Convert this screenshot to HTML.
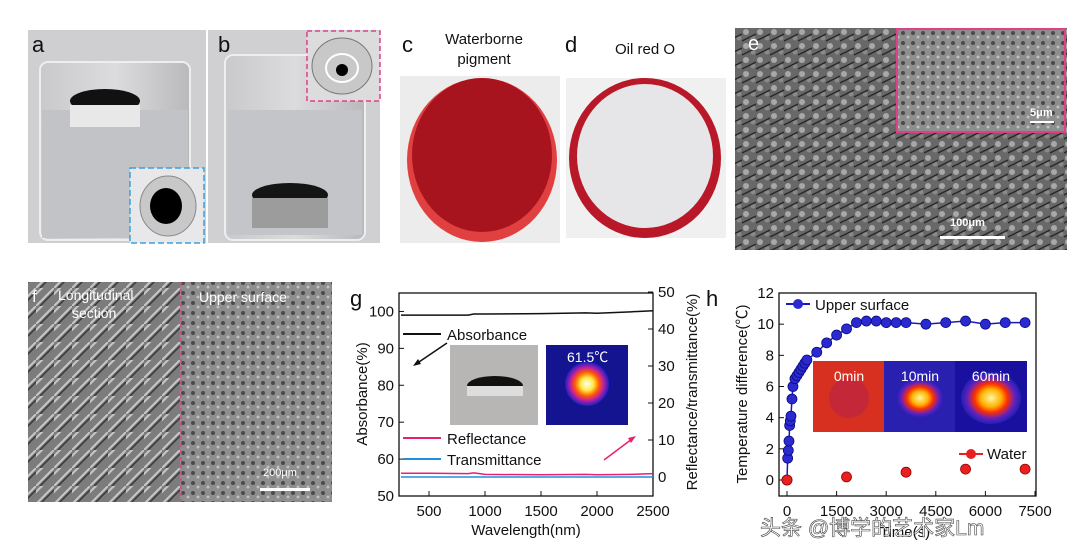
<!DOCTYPE html>
<html><head><meta charset="utf-8"><style>
html,body{margin:0;padding:0;background:#fff;width:1070px;height:558px;overflow:hidden}
svg{display:block;font-family:"Liberation Sans","Noto Sans CJK SC",sans-serif}
</style></head><body>
<svg id="fig" width="1070" height="558" viewBox="0 0 1070 558">
<defs>
<linearGradient id="glass" x1="0" y1="0" x2="1" y2="0"><stop offset="0" stop-color="#c9c9cb"/><stop offset="0.5" stop-color="#dcdcde"/><stop offset="1" stop-color="#b9b9bc"/></linearGradient>
<radialGradient id="hot" cx="0.5" cy="0.5" r="0.5"><stop offset="0" stop-color="#fff"/><stop offset="0.3" stop-color="#ffe840"/><stop offset="0.55" stop-color="#ff5a00"/><stop offset="0.75" stop-color="#c020a0"/><stop offset="1" stop-color="#1a20c0"/></radialGradient>
<radialGradient id="hot2" cx="0.5" cy="0.5" r="0.5"><stop offset="0" stop-color="#fff8a0"/><stop offset="0.35" stop-color="#ffb000"/><stop offset="0.55" stop-color="#ff3000"/><stop offset="0.8" stop-color="#6020c0"/><stop offset="1" stop-color="#2020b0"/></radialGradient>
<pattern id="sem" width="14" height="14" patternUnits="userSpaceOnUse"><rect width="14" height="14" fill="#686868"/><circle cx="4" cy="4" r="3" fill="#a8a8a8"/><circle cx="11" cy="10" r="2.5" fill="#8a8a8a"/><path d="M0 13 L14 6" stroke="#2a2a2a" stroke-width="1.5"/></pattern>
<pattern id="sem2" width="10" height="10" patternUnits="userSpaceOnUse"><rect width="10" height="10" fill="#8e8e8e"/><circle cx="3" cy="3" r="2" fill="#4a4a4a"/><circle cx="8" cy="7" r="1.5" fill="#c0c0c0"/></pattern>
<pattern id="semf" width="18" height="18" patternUnits="userSpaceOnUse"><rect width="18" height="18" fill="#7c7c7c"/><path d="M0 18 L18 0 M-4 10 L10 -4" stroke="#c8c8c8" stroke-width="2"/><path d="M4 18 L18 4" stroke="#383838" stroke-width="1.5"/></pattern>
</defs>

<g>
<rect x="28" y="30" width="178" height="213" fill="#cfcfd1"/>
<rect x="40" y="62" width="150" height="178" rx="8" fill="url(#glass)" stroke="#eee" stroke-width="2"/>
<rect x="42" y="110" width="146" height="128" fill="#c2c3c6"/>
<ellipse cx="105" cy="101" rx="35" ry="12" fill="#111"/>
<rect x="70" y="105" width="70" height="22" fill="#e8e8e8"/>
<rect x="130" y="168" width="74" height="75" fill="#e8e8ea" stroke="#3aa0e0" stroke-dasharray="6,3" stroke-width="1.5"/>
<ellipse cx="168" cy="206" rx="28" ry="30" fill="#c8c8c8" stroke="#888"/>
<ellipse cx="166" cy="206" rx="16" ry="18" fill="#000"/>
<text x="32" y="52" font-size="22" fill="#111">a</text>
</g>
<g>
<rect x="208" y="30" width="172" height="213" fill="#d0d0d2"/>
<rect x="225" y="55" width="140" height="185" rx="8" fill="url(#glass)" stroke="#eee" stroke-width="2"/>
<rect x="228" y="110" width="134" height="125" fill="#c4c5c8"/>
<ellipse cx="290" cy="195" rx="38" ry="12" fill="#151515"/>
<rect x="252" y="198" width="76" height="30" fill="#9c9c9c"/>
<rect x="307" y="31" width="73" height="70" fill="#dcdcdc" stroke="#e0408a" stroke-dasharray="5,3" stroke-width="1.5"/>
<ellipse cx="342" cy="66" rx="30" ry="28" fill="#c8c8c8" stroke="#777"/>
<ellipse cx="342" cy="68" rx="16" ry="14" fill="none" stroke="#fff" stroke-width="2"/>
<ellipse cx="342" cy="70" rx="6" ry="6" fill="#000"/>
<text x="218" y="52" font-size="22" fill="#111">b</text>
</g>
<g>
<text x="402" y="52" font-size="22" fill="#111">c</text>
<text x="484" y="44" font-size="15" text-anchor="middle" fill="#111">Waterborne</text>
<text x="484" y="64" font-size="15" text-anchor="middle" fill="#111">pigment</text>
<rect x="400" y="76" width="160" height="167" fill="#ececec"/>
<ellipse cx="482" cy="160" rx="75" ry="82" fill="#e04040"/>
<ellipse cx="482" cy="155" rx="70" ry="77" fill="#a8141e"/>
</g>
<g>
<text x="565" y="52" font-size="22" fill="#111">d</text>
<text x="645" y="54" font-size="15" text-anchor="middle" fill="#111">Oil red O</text>
<rect x="566" y="78" width="160" height="160" fill="#f0f0f0"/>
<ellipse cx="645" cy="158" rx="76" ry="80" fill="#b81828"/>
<ellipse cx="645" cy="156" rx="68" ry="72" fill="#e6e6e8"/>
</g>
<g>
<rect x="735" y="28" width="332" height="222" fill="url(#sem)"/>
<rect x="897" y="29" width="168" height="103" fill="url(#sem2)" stroke="#e0408a" stroke-width="2"/>
<text x="1030" y="116" font-size="11" font-weight="bold" fill="#fff">5μm</text>
<rect x="1030" y="121" width="24" height="2" fill="#fff"/>
<text x="950" y="226" font-size="11" font-weight="bold" fill="#fff">100μm</text>
<rect x="940" y="236" width="65" height="3" fill="#fff"/>
<text x="748" y="50" font-size="20" fill="#fff">e</text>
</g>
<g>
<rect x="28" y="282" width="152" height="220" fill="url(#semf)"/>
<rect x="180" y="282" width="152" height="220" fill="url(#sem2)"/>
<line x1="181" y1="282" x2="181" y2="502" stroke="#e0408a" stroke-dasharray="4,3" stroke-width="1.5"/>
<text x="32" y="302" font-size="17" fill="#fff">f</text>
<text x="58" y="300" font-size="14" fill="#fff">Longitudinal</text>
<text x="72" y="318" font-size="14" fill="#fff">section</text>
<text x="199" y="302" font-size="14" fill="#fff">Upper surface</text>
<text x="263" y="476" font-size="11" fill="#fff">200μm</text>
<rect x="260" y="488" width="50" height="3" fill="#fff"/>
</g>

<g id="chartG"></g>
<g id="chartH"></g>

<text x="760" y="535" font-size="21" fill="#fff" stroke="#444" stroke-width="0.6">头条 @博学的艺术家Lm</text>
</svg>
<script>
// ---- chart g data ----
const gWaveTicks = [500, 1000, 1500, 2000, 2500];
const gAbsTicks = [50, 60, 70, 80, 90, 100];
const gRtTicks = [0, 10, 20, 30, 40, 50];
const gWave = [250, 500, 850, 900, 1000, 1500, 1900, 2000, 2300, 2500];
const gAbsorbance = [99.0, 99.0, 99.0, 99.3, 99.3, 99.4, 99.6, 99.5, 99.9, 100.2];
const gReflectance = [1.0, 1.0, 0.9, 1.1, 0.7, 0.6, 0.7, 0.6, 0.7, 0.9];
const gTransmittance = [0, 0, 0, 0, 0, 0, 0, 0, 0, 0];
// ---- chart h data ----
const hTimeTicks = [0, 1500, 3000, 4500, 6000, 7500];
const hTempTicks = [0, 2, 4, 6, 8, 10, 12];
const hUpperTime = [0,20,40,60,80,100,120,150,180,240,300,360,420,480,540,600,900,1200,1500,1800,2100,2400,2700,3000,3300,3600,4200,4800,5400,6000,6600,7200];
const hUpperTemp = [0,1.4,1.9,2.5,3.5,3.8,4.1,5.2,6.0,6.5,6.7,6.9,7.1,7.3,7.5,7.7,8.2,8.8,9.3,9.7,10.1,10.2,10.2,10.1,10.1,10.1,10.0,10.1,10.2,10.0,10.1,10.1];
const hWaterTime = [0, 1800, 3600, 5400, 7200];
const hWaterTemp = [0, 0.2, 0.5, 0.7, 0.7];

const NS = 'http://www.w3.org/2000/svg';
function mk(parent, tag, attrs, txt){const e=document.createElementNS(NS,tag);for(const k in attrs)e.setAttribute(k,attrs[k]);if(txt!==undefined)e.textContent=txt;parent.appendChild(e);return e;}

(function(){
 const g=document.getElementById('chartG');
 const L=399,R=653,T=293,B=496;
 const x=v=>L+(v-232)/(2500-232)*(R-L);
 const yA=v=>B-(v-50)/(105-50)*(B-T);
 const yR=v=>477-v/50*(477-292);
 let t=mk(g,'text',{x:350,y:306,'font-size':22,fill:'#111'},'g');
 
 let ph=mk(g,'rect',{x:450,y:345,width:88,height:80,fill:'#b8b6b4'});
 
 mk(g,'ellipse',{cx:495,cy:386,rx:28,ry:10,fill:'#111'});
 mk(g,'rect',{x:467,y:386,width:56,height:10,fill:'#ddd'});
 let th=mk(g,'rect',{x:546,y:345,width:82,height:80,fill:'#141490'});
 
 mk(g,'circle',{cx:587,cy:384,r:22,fill:'url(#hot)'});
 mk(g,'text',{x:567,y:362,'font-size':14,fill:'#fff'},'61.5℃');
 let frame=mk(g,'rect',{x:L,y:T,width:R-L,height:B-T,fill:'none',stroke:'#111','stroke-width':1.3});
 
 gWaveTicks.forEach(v=>{const xx=x(v);mk(g,'line',{x1:xx,y1:B,x2:xx,y2:B-5,stroke:'#111'});
  const e=mk(g,'text',{x:xx,y:B+20,'font-size':15,'text-anchor':'middle',fill:'#111'},v);
  });
 gAbsTicks.forEach(v=>{const yy=yA(v);mk(g,'line',{x1:L,y1:yy,x2:L+5,y2:yy,stroke:'#111'});
  const e=mk(g,'text',{x:L-5,y:yy+5,'font-size':15,'text-anchor':'end',fill:'#111'},v);
  });
 gRtTicks.forEach(v=>{const yy=yR(v);mk(g,'line',{x1:R,y1:yy,x2:R-5,y2:yy,stroke:'#111'});
  const e=mk(g,'text',{x:R+5,y:yy+5,'font-size':15,fill:'#111'},v);
  });
 const line=(ys,fy,col,name)=>{const p=mk(g,'polyline',{points:gWave.map((w,i)=>x(w)+','+fy(ys[i])).join(' '),fill:'none',stroke:col,'stroke-width':1.5});
  };
 line(gTransmittance,yR,'#1e90e0','transmittance-line');
 line(gReflectance,yR,'#e8206e','reflectance-line');
 line(gAbsorbance,yA,'#111','absorbance-line');
 const leg=(y,col,label)=>{mk(g,'line',{x1:403,y1:y,x2:441,y2:y,stroke:col,'stroke-width':2});
  const e=mk(g,'text',{x:447,y:y+6,'font-size':15,fill:'#111'},label);
  };
 leg(334,'#111','Absorbance');leg(438,'#e8206e','Reflectance');leg(459,'#1e90e0','Transmittance');
 mk(g,'line',{x1:447,y1:343,x2:416,y2:364,stroke:'#111','stroke-width':1.5});
 mk(g,'path',{d:'M413 366 l8 -2 l-3 -5 z',fill:'#111'});
 mk(g,'line',{x1:604,y1:460,x2:632,y2:439,stroke:'#e8206e','stroke-width':1.5});
 mk(g,'path',{d:'M636 436 l-8 2 l3 5 z',fill:'#e8206e'});
 const yt=mk(g,'text',{x:0,y:0,'font-size':15,'text-anchor':'middle',fill:'#111',transform:'translate(367,394) rotate(-90)'},'Absorbance(%)');
 
 const yt2=mk(g,'text',{x:0,y:0,'font-size':15,'text-anchor':'middle',fill:'#111',transform:'translate(697,392) rotate(-90)'},'Reflectance/transmittance(%)');
 
 const xt=mk(g,'text',{x:526,y:535,'font-size':15,'text-anchor':'middle',fill:'#111'},'Wavelength(nm)');
 
})();

(function(){
 const g=document.getElementById('chartH');
 const L=779,R=1036,T=293,B=496;
 const x=v=>787+v/7500*(1035-787);
 const y=v=>480-v/12*(480-293);
 let t=mk(g,'text',{x:706,y:306,'font-size':22,fill:'#111'},'h');
 
 const ins=[[813,'#d83020','0min'],[884,'#2a20b0','10min'],[955,'#1a10a0','60min']];
 ins.forEach((d,i)=>{const r=mk(g,'rect',{x:d[0],y:361,width:72,height:71,fill:d[1]});
  
  if(i>0) mk(g,'ellipse',{cx:d[0]+36,cy:398,rx:i==1?24:30,ry:i==1?20:26,fill:'url(#hot2)'});
  else mk(g,'circle',{cx:d[0]+36,cy:398,r:20,fill:'#b02050',opacity:0.5});
  mk(g,'text',{x:d[0]+36,y:381,'font-size':14,'text-anchor':'middle',fill:'#fff'},d[2]);});
 const frame=mk(g,'rect',{x:L,y:T,width:R-L,height:B-T,fill:'none',stroke:'#111','stroke-width':1.3});
 
 hTimeTicks.forEach(v=>{const xx=x(v);mk(g,'line',{x1:xx,y1:B,x2:xx,y2:B-5,stroke:'#111'});
  const e=mk(g,'text',{x:xx,y:B+20,'font-size':15,'text-anchor':'middle',fill:'#111'},v);
  });
 hTempTicks.forEach(v=>{const yy=y(v);mk(g,'line',{x1:L,y1:yy,x2:L+5,y2:yy,stroke:'#111'});
  const e=mk(g,'text',{x:L-5,y:yy+5,'font-size':15,'text-anchor':'end',fill:'#111'},v);
  });
 const pl=mk(g,'polyline',{points:hUpperTime.map((v,i)=>x(v)+','+y(hUpperTemp[i])).join(' '),fill:'none',stroke:'#1a1ab8','stroke-width':1.5});
 
 hUpperTime.forEach((v,i)=>{const c=mk(g,'circle',{cx:x(v),cy:y(hUpperTemp[i]),r:5,fill:'#2a2ad0',stroke:'#0a0a80','stroke-width':0.8});
  });
 hWaterTime.forEach((v,i)=>{const c=mk(g,'circle',{cx:x(v),cy:y(hWaterTemp[i]),r:5,fill:'#e82020',stroke:'#900','stroke-width':0.8});
  });
 mk(g,'line',{x1:786,y1:304,x2:810,y2:304,stroke:'#1a1ab8','stroke-width':2});
 mk(g,'circle',{cx:798,cy:304,r:5,fill:'#2a2ad0'});
 let l1=mk(g,'text',{x:815,y:310,'font-size':15,fill:'#111'},'Upper surface');
 
 mk(g,'line',{x1:959,y1:454,x2:983,y2:454,stroke:'#e82020','stroke-width':2});
 mk(g,'circle',{cx:971,cy:454,r:5,fill:'#e82020'});
 let l2=mk(g,'text',{x:987,y:459,'font-size':15,fill:'#111'},'Water');
 
 const yt=mk(g,'text',{x:0,y:0,'font-size':15,'text-anchor':'middle',fill:'#111',transform:'translate(747,394) rotate(-90)'},'Temperature difference(℃)');
 
 const xt=mk(g,'text',{x:905,y:537,'font-size':15,'text-anchor':'middle',fill:'#111'},'Time(s)');
 
})();
</script>
</body></html>
